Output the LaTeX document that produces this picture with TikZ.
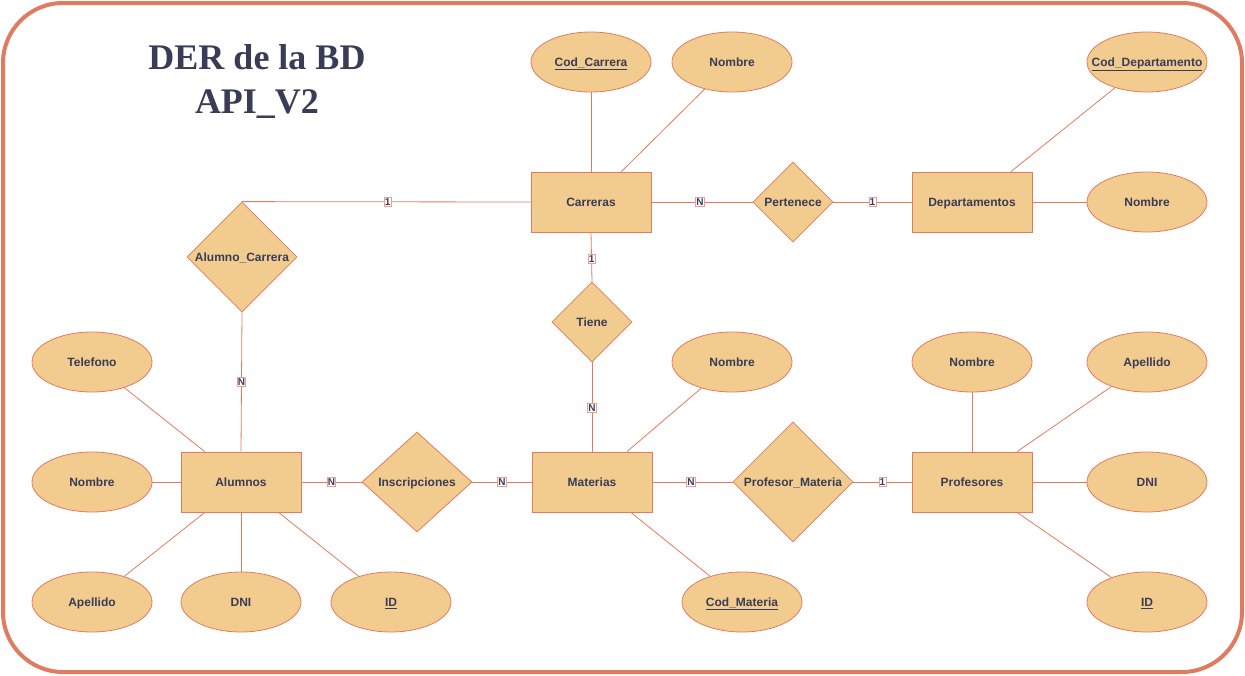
\documentclass[tikz,border=0pt]{standalone}
\usepackage{fontspec}
\setmainfont{Liberation Sans}
\newfontfamily\titlefont{Liberation Serif}
\usetikzlibrary{shapes.geometric}
\definecolor{ln}{HTML}{E07B5F}
\definecolor{fl}{HTML}{F2CC8F}
\definecolor{tx}{HTML}{393C56}
\definecolor{lb}{HTML}{F19C99}
\newcommand{\fitbox}[1]{\makebox[0pt]{#1}}
\begin{document}
\begin{tikzpicture}[x=1pt,y=-1pt,
  every node/.style={font=\fontsize{12}{14}\selectfont\bfseries, text=tx},
  shp/.style={text height=8.6, text depth=0, line width=0.8, draw=ln, fill=fl},
  attr/.style={shp, ellipse, minimum width=120, minimum height=60, inner sep=0},
  ent/.style={shp, rectangle, minimum width=120, minimum height=60},
  rel/.style={shp, diamond, inner sep=0, aspect=1},
  conn/.style={draw=ln, line width=0.8},
  card/.style={draw=lb, fill=white, inner sep=0.7, font=\fontsize{10}{11}\selectfont\bfseries, line width=0.8}]
\useasboundingbox (0,0) rectangle (1245,675);
\draw[ln, line width=4, rounded corners=60] (3,3) rectangle (1242,672);

\node[font=\titlefont\fontsize{36}{44}\selectfont\bfseries, align=center] (title) at (257,82) {DER de la BD\\API\_V2};

% entities
\node[ent] (carr) at (591,202) {Carreras};
\node[ent] (dep) at (972,202) {Departamentos};
\node[ent] (alu) at (241,482) {Alumnos};
\node[ent] (mat) at (592,482) {Materias};
\node[ent] (prof) at (972,482) {Profesores};

% relations
\node[rel, minimum width=80, minimum height=80] (pert) at (793,202) {Pertenece};
\node[rel, minimum width=110, minimum height=110] (ac) at (242,257) {Alumno\_Carrera};
\node[rel, minimum width=80, minimum height=80] (tiene) at (592,322) {Tiene};
\node[rel, minimum width=110, minimum height=100, aspect=1.1] (insc) at (417,482) {Inscripciones};
\node[rel, minimum width=120, minimum height=120] (pm) at (793,482) {Profesor\_Materia};

% attributes
\node[attr] (codc) at (591,62) {\underline{Cod\_Carrera}};
\node[attr] (nomc) at (732,62) {Nombre};
\node[attr] (codd) at (1147,62) {\fitbox{\underline{Cod\_Departamento}}};
\node[attr] (nomd) at (1147,202) {Nombre};
\node[attr] (tel) at (92,362) {Telefono};
\node[attr] (noma) at (92,482) {Nombre};
\node[attr] (apea) at (92,602) {Apellido};
\node[attr] (dnia) at (241,602) {DNI};
\node[attr] (ida) at (391,602) {\underline{ID}};
\node[attr] (nomm) at (732,362) {Nombre};
\node[attr] (codm) at (742,602) {\underline{Cod\_Materia}};
\node[attr] (nomp) at (972,362) {Nombre};
\node[attr] (apep) at (1147,362) {Apellido};
\node[attr] (dnip) at (1147,482) {DNI};
\node[attr] (idp) at (1147,602) {\underline{ID}};

% attribute connectors
\draw[conn] (codc) -- (carr);
\draw[conn] (nomc) -- (carr.45);
\draw[conn] (codd) -- (dep.38);
\draw[conn] (nomd) -- (dep);
\draw[conn] (tel) -- (alu.140);
\draw[conn] (noma) -- (alu);
\draw[conn] (apea) -- (alu.220);
\draw[conn] (dnia) -- (alu);
\draw[conn] (ida) -- (alu.321);
\draw[conn] (nomm) -- (mat.41);
\draw[conn] (codm) -- (mat.322);
\draw[conn] (nomp) -- (prof);
\draw[conn] (apep) -- (prof.34);
\draw[conn] (dnip) -- (prof);
\draw[conn] (idp) -- (prof.326);

% relation connectors with cardinalities
\draw[conn] (carr.west) -- node[card, pos=0.495] (c1) {1} (ac.north);
\draw[conn] (ac.south) -- node[card, pos=0.5] (c2) {N} (alu.north);
\draw[conn] (carr.east) -- node[card, pos=0.48] (c3) {N} (pert.west);
\draw[conn] (pert.east) -- node[card, pos=0.5] (c4) {1} (dep.west);
\draw[conn] (carr.south) -- node[card, pos=0.54] (c5) {1} (tiene.north);
\draw[conn] (tiene.south) -- node[card, pos=0.51] (c6) {N} (mat.north);
\draw[conn] (alu.east) -- node[card, pos=0.5] (c7) {N} (insc.west);
\draw[conn] (insc.east) -- node[card, pos=0.5] (c8) {N} (mat.west);
\draw[conn] (mat.east) -- node[card, pos=0.48] (c9) {N} (pm.west);
\draw[conn] (pm.east) -- node[card, pos=0.5] (c10) {1} (prof.west);
\end{tikzpicture}
\end{document}
